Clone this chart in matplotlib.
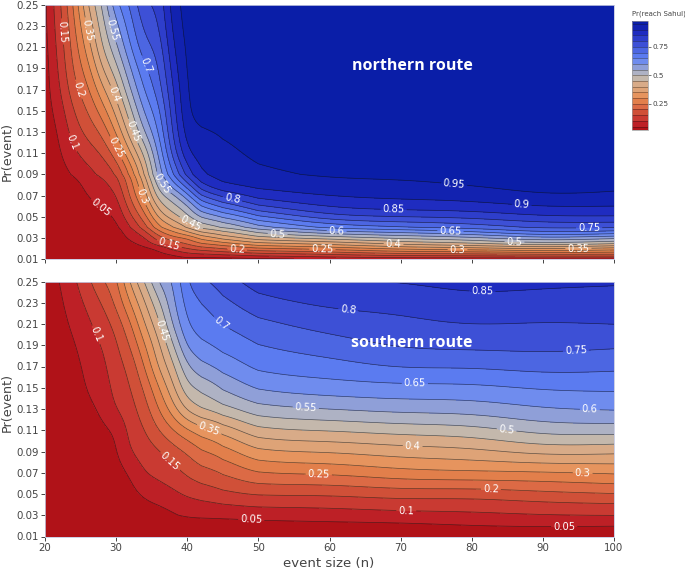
import numpy as np
import matplotlib
matplotlib.use('Agg')
from matplotlib import pyplot as plt
from matplotlib.colors import ListedColormap, BoundaryNorm

# event size columns
x_vals = [20, 22, 24, 26, 28, 30, 32, 34, 36, 38, 40, 42, 45, 50, 60, 70, 80, 90, 100]

north_y = [.01, .015, .02, .025, .03, .035, .04, .05, .06, .07, .08, .09, .11, .13, .15, .17, .19, .21, .23, .25]
north_z = [
    [.005, .005, .005, .005, .008, .008, .008, .01, .012, .012, .014, .015, .02, .02, .025, .03, .03, .035, .04, .04],
    [.005, .005, .005, .008, .01, .01, .012, .015, .018, .02, .025, .03, .04, .05, .07, .09, .105, .115, .125, .135],
    [.005, .005, .005, .005, .008, .008, .01, .012, .015, .02, .03, .05, .09, .125, .15, .185, .205, .22, .235, .25],
    [.005, .005, .005, .01, .01, .012, .015, .02, .035, .052, .065, .08, .125, .165, .20, .235, .275, .32, .36, .40],
    [.005, .005, .01, .01, .015, .02, .025, .035, .055, .07, .085, .105, .15, .205, .27, .335, .40, .45, .475, .50],
    [.005, .01, .015, .02, .02, .025, .03, .05, .065, .085, .115, .135, .225, .305, .365, .42, .48, .535, .585, .64],
    [.01, .015, .025, .04, .06, .075, .095, .14, .175, .21, .225, .25, .35, .43, .485, .55, .60, .65, .68, .705],
    [.01, .025, .035, .07, .09, .125, .17, .225, .275, .32, .355, .395, .46, .555, .615, .66, .695, .74, .77, .80],
    [.015, .04, .055, .14, .18, .24, .29, .37, .43, .49, .53, .575, .61, .65, .68, .72, .74, .76, .785, .80],
    [.02, .06, .12, .175, .24, .29, .34, .43, .485, .525, .63, .69, .775, .81, .83, .85, .875, .90, .92, .935],
    [.04, .095, .15, .21, .25, .34, .40, .49, .53, .63, .73, .825, .905, .935, .955, .96, .965, .965, .97, .97],
    [.03, .10, .18, .26, .32, .40, .465, .56, .66, .76, .85, .905, .92, .945, .97, .975, .975, .98, .98, .98],
    [.03, .115, .20, .28, .365, .425, .49, .60, .71, .81, .905, .915, .935, .955, .97, .975, .98, .98, .98, .98],
    [.04, .14, .25, .35, .44, .50, .57, .69, .80, .88, .915, .94, .965, .975, .98, .98, .98, .985, .985, .985],
    [.06, .16, .27, .37, .47, .58, .665, .80, .865, .905, .935, .96, .975, .98, .985, .985, .985, .985, .985, .985],
    [.07, .20, .325, .43, .515, .60, .69, .81, .875, .915, .94, .96, .975, .98, .985, .985, .985, .985, .985, .985],
    [.07, .20, .33, .45, .53, .63, .715, .815, .88, .92, .955, .965, .975, .98, .985, .985, .985, .985, .985, .985],
    [.07, .22, .37, .51, .60, .71, .76, .855, .905, .955, .97, .975, .98, .985, .985, .985, .985, .985, .985, .985],
    [.07, .22, .33, .47, .56, .68, .75, .855, .90, .945, .96, .97, .98, .985, .985, .985, .985, .985, .985, .985],
]

south_y = [.01, .02, .03, .05, .07, .09, .11, .13, .15, .17, .19, .21, .23, .25]
south_z = [
    [.005, .005, .005, .005, .005, .005, .005, .008, .01, .012, .015, .02, .025, .03],
    [.005, .005, .005, .005, .005, .008, .01, .012, .015, .02, .025, .03, .038, .045],
    [.005, .005, .005, .005, .01, .012, .015, .02, .025, .03, .042, .06, .075, .09],
    [.005, .005, .005, .01, .015, .02, .03, .04, .055, .065, .08, .09, .11, .135],
    [.005, .007, .01, .015, .025, .03, .04, .055, .07, .085, .098, .12, .15, .195],
    [.01, .011, .012, .02, .03, .04, .048, .105, .12, .13, .14, .165, .21, .23],
    [.01, .015, .02, .035, .05, .105, .12, .13, .145, .16, .20, .24, .30, .36],
    [.01, .018, .025, .055, .105, .125, .145, .175, .205, .25, .295, .35, .395, .45],
    [.015, .018, .025, .075, .115, .14, .20, .25, .295, .36, .39, .435, .49, .56],
    [.015, .024, .04, .09, .13, .175, .245, .33, .39, .435, .49, .56, .59, .60],
    [.02, .03, .05, .11, .16, .20, .29, .42, .495, .545, .62, .655, .675, .70],
    [.02, .03, .053, .12, .18, .245, .32, .46, .505, .59, .64, .675, .695, .74],
    [.02, .03, .053, .14, .197, .265, .355, .485, .555, .615, .665, .70, .735, .77],
    [.02, .033, .061, .158, .258, .35, .448, .54, .615, .67, .70, .735, .785, .83],
    [.02, .036, .068, .15, .256, .35, .45, .555, .63, .678, .726, .774, .815, .845],
    [.02, .037, .075, .173, .29, .375, .472, .572, .637, .711, .762, .788, .813, .85],
    [.03, .046, .083, .157, .30, .38, .475, .572, .635, .703, .764, .805, .838, .87],
    [.03, .049, .088, .188, .289, .428, .527, .603, .656, .724, .767, .795, .828, .86],
    [.03, .046, .09, .197, .307, .41, .525, .61, .658, .713, .757, .804, .83, .855],
]

levels = [0, .05, .1, .15, .2, .25, .3, .35, .4, .45, .5, .55, .6, .65, .7, .75, .8, .85, .9, .95, 1]
band_colors = ['#b01218', '#bd2026', '#c93a32', '#d05038', '#dc6a45', '#e27f4b', '#e6945e', '#dea377',
               '#d8ab88', '#c4b8ac', '#aeb2c4', '#8f9fd8', '#6f8cee', '#5b7bf0', '#4c66e2', '#3d50d6',
               '#2e3ecb', '#1f2cc0', '#1222b0', '#0a1ea8']

north_labels = [(.05, 28, .06), (.1, 23.8, .12), (.15, 22.5, .225), (.15, 37.4, .023), (.2, 24.5, .17), (.2, 47, .019),
                (.25, 30, .115), (.25, 59, .019), (.3, 33.4, .069), (.3, 78, .018), (.35, 25.8, .226), (.35, 95, .019),
                (.4, 29.6, .165), (.4, 69, .023), (.45, 32.4, .131), (.45, 40.4, .042), (.5, 52.7, .033), (.5, 86, .0245),
                (.55, 29.2, .226), (.55, 36.6, .082), (.6, 61, .036), (.65, 77, .036), (.7, 34, .193), (.75, 96.5, .04),
                (.8, 46.4, .068), (.85, 69, .053), (.9, 87, .059), (.95, 77.5, .079)]
south_labels = [(.05, 49, .0266), (.05, 93, .0204), (.1, 27.2, .2), (.1, 70.8, .0357), (.15, 37.6, .081), (.2, 82.7, .0555),
                (.25, 58.5, .0706), (.3, 95.6, .0703), (.35, 43.2, .1135), (.4, 71.7, .0963), (.45, 36.7, .2045),
                (.5, 84.9, .11), (.55, 56.7, .1346), (.6, 96.6, .1277), (.65, 72, .1528), (.7, 45.8, .218),
                (.75, 94.7, .18), (.8, 62.6, .2224), (.85, 81.5, .2375)]

W, H = 685, 571
cmap = ListedColormap(band_colors)
norm = BoundaryNorm(levels, cmap.N)
grey = '#444444'


def soften(xs, ys, zz, step=8, sigma=3.5):
    # refine the read-off table in index space and round its corners, like the spline smoothing of the original
    ix = np.arange(0, len(xs) - 1 + 1e-9, 1 / step)
    iy = np.arange(0, len(ys) - 1 + 1e-9, 1 / step)
    fine = np.array([np.interp(iy, np.arange(len(ys)), col) for col in zz.T]).T
    fine = np.array([np.interp(ix, np.arange(len(xs)), row) for row in fine])
    r = int(3 * sigma)
    kern = np.exp(-0.5 * (np.arange(-r, r + 1) / sigma) ** 2)
    kern /= kern.sum()
    pad = np.pad(fine, r, mode='reflect', reflect_type='odd')
    pad = np.apply_along_axis(lambda v: np.convolve(v, kern, mode='same'), 0, pad)
    pad = np.apply_along_axis(lambda v: np.convolve(v, kern, mode='same'), 1, pad)
    out = np.clip(pad[r:-r, r:-r], .001, .999)
    return np.interp(ix, np.arange(len(xs)), xs), np.interp(iy, np.arange(len(ys)), ys), out


def panel(box, y, z, labels, name):
    l, t, r, b = box
    ax = fig.add_axes([l / W, 1 - b / H, (r - l) / W, (b - t) / H])
    xf, yf, zz = soften(x_vals, y, np.array(z).T)
    cf = ax.contourf(xf, yf, zz, levels=levels, cmap=cmap, norm=norm)
    ax.set_xlim(20, 100)
    ax.set_ylim(.01, .25)
    # one contour set per level so that each label lands on its own line
    for lv in levels[1:-1]:
        cs = ax.contour(xf, yf, zz, levels=[lv], colors='#101010', linewidths=0.5, alpha=0.6)
        here = [(lx, ly) for v, lx, ly in labels if v == lv]
        if here:
            for t_ in cs.clabel(manual=here, inline=True, inline_spacing=2, fontsize=7.2, colors='white', fmt='%g'):
                t_.set_alpha(1)
    ax.set_yticks(np.arange(1, 26, 2) / 100)
    ax.set_yticklabels(['%.2f' % v for v in np.arange(1, 26, 2) / 100])
    ax.set_xticks(range(20, 101, 10))
    ax.tick_params(length=3, width=0.7, color=grey, labelcolor=grey, labelsize=7.4, pad=1.5)
    for s in ax.spines.values():
        s.set_color('#c4c8e0')
        s.set_linewidth(0.6)
    ax.text(71.6, .192, name, color='white', fontsize=11.5, fontweight='bold', family='Open Sans',
            ha='center', va='center')
    return ax, cf


fig = plt.figure(figsize=(W / 100, H / 100), dpi=100)

ax1, cf1 = panel((45, 5, 614, 259), north_y, north_z, north_labels, 'northern route')
ax1.set_xticklabels([])
ax2, cf2 = panel((45, 281.5, 614, 536.5), south_y, south_z, south_labels, 'southern route')

fig.text(7 / W, 1 - 152 / H, 'Pr(event)', rotation=90, ha='center', va='center', color=grey, fontsize=9.2)
fig.text(7 / W, 1 - 403 / H, 'Pr(event)', rotation=90, ha='center', va='center', color=grey, fontsize=9.2)
fig.text(329 / W, 1 - 563 / H, 'event size (n)', ha='center', va='center', color=grey, fontsize=9.5)

cax = fig.add_axes([632 / W, 1 - 130 / H, 16 / W, 109 / H])
cb = fig.colorbar(cf1, cax=cax, ticks=[.25, .5, .75])
cb.ax.hlines(levels[1:-1], 0, 1, transform=cb.ax.get_yaxis_transform(), colors='#101010', linewidths=0.4, alpha=0.6)
cb.ax.set_ylim(.02, .977)
cb.ax.set_yticklabels(['0.25', '0.5', '0.75'])
cb.ax.minorticks_off()
cb.ax.tick_params(length=2, width=0.5, color=grey, labelcolor=grey, labelsize=5.2, pad=1)
cb.outline.set_edgecolor('#999999')
cb.outline.set_linewidth(0.5)
fig.text(632 / W, 1 - 14 / H, 'Pr(reach Sahul)', ha='left', va='center', color=grey, fontsize=5)

fig.savefig('out.png', dpi=100)
